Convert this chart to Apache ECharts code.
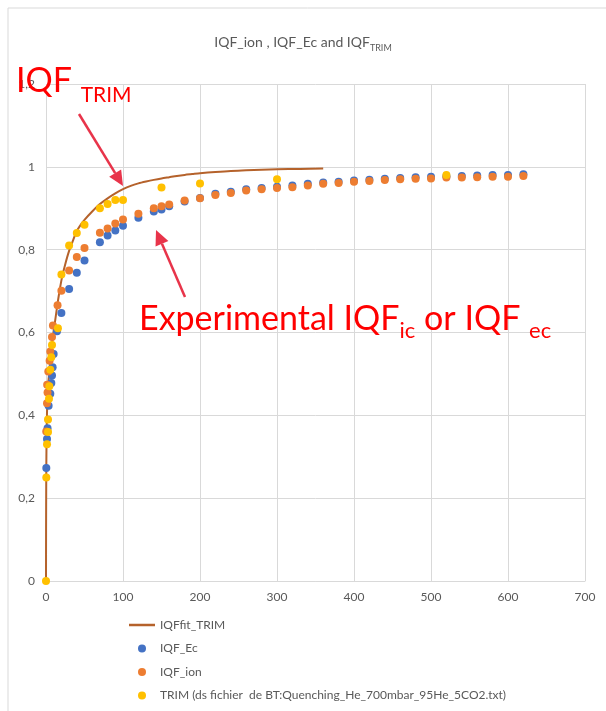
<!DOCTYPE html>
<html>
<head>
<meta charset="utf-8">
<script src="https://cdn.jsdelivr.net/npm/echarts@6/dist/echarts.min.js"></script>
<style>
html,body{margin:0;padding:0;background:#fff;}
#chart{width:606px;height:711px;}
</style>
</head>
<body>
<div id="chart"></div>
<script>
// ---- data ----
const xTicks = [0, 100, 200, 300, 400, 500, 600, 700];
const yTicks = [0, 0.2, 0.4, 0.6, 0.8, 1, 1.2];

const fitX = [0, 0.1, 0.3, 0.6, 1, 1.5, 2, 3, 4, 5, 6, 8, 10, 12, 15, 18, 21, 25, 30, 35, 40, 45, 50, 60, 70, 80, 90, 100, 110, 120, 130, 140, 150, 160, 170, 180, 190, 200, 220, 240, 260, 280, 300, 330, 360];
const fitY = [0, 0.12, 0.24, 0.32, 0.38, 0.42, 0.45, 0.48, 0.50, 0.52, 0.54, 0.575, 0.605, 0.63, 0.67, 0.705, 0.735, 0.765, 0.797, 0.822, 0.845, 0.86, 0.872, 0.892, 0.91, 0.924, 0.936, 0.946, 0.954, 0.96, 0.9645, 0.9685, 0.972, 0.975, 0.978, 0.9805, 0.9825, 0.9845, 0.9875, 0.99, 0.9915, 0.993, 0.994, 0.995, 0.996];

const ecX = [0.4, 1.3, 2, 3.4, 5.6, 6.9, 7.8, 8.6, 9.9, 14.3, 20, 30, 40, 50, 70, 80, 90, 100, 120, 140, 150, 160, 180, 200, 220, 240, 260, 280, 300, 320, 340, 360, 380, 400, 420, 440, 460, 480, 500, 520, 540, 560, 580, 600, 620];
const ecY = [0.273, 0.343, 0.369, 0.423, 0.452, 0.478, 0.496, 0.516, 0.548, 0.603, 0.647, 0.705, 0.744, 0.774, 0.818, 0.834, 0.846, 0.858, 0.877, 0.892, 0.897, 0.905, 0.916, 0.925, 0.935, 0.940, 0.946, 0.949, 0.952, 0.955, 0.959, 0.962, 0.964, 0.967, 0.969, 0.971, 0.973, 0.975, 0.976, 0.977, 0.978, 0.979, 0.980, 0.980, 0.982];

const ionX = [0.3, 1.3, 1.5, 2, 3, 4.7, 5.6, 7.8, 9, 15, 20, 30, 40, 50, 70, 80, 90, 100, 120, 140, 150, 160, 180, 200, 220, 240, 260, 280, 300, 320, 340, 360, 380, 400, 420, 440, 460, 480, 500, 520, 540, 560, 580, 600, 620];
const ionY = [0.361, 0.429, 0.474, 0.455, 0.506, 0.532, 0.554, 0.589, 0.617, 0.666, 0.701, 0.750, 0.782, 0.804, 0.841, 0.851, 0.863, 0.873, 0.887, 0.900, 0.905, 0.909, 0.919, 0.924, 0.932, 0.937, 0.943, 0.946, 0.949, 0.951, 0.955, 0.959, 0.961, 0.964, 0.966, 0.968, 0.970, 0.971, 0.972, 0.974, 0.974, 0.975, 0.976, 0.976, 0.978];

const trimX = [0, 0.4, 1.3, 2.6, 2.6, 3.9, 4.3, 5.6, 6.9, 7.8, 15.5, 20, 30, 40, 50, 70, 80, 90, 100, 150, 200, 300, 520];
const trimY = [0, 0.25, 0.33, 0.36, 0.39, 0.44, 0.47, 0.51, 0.54, 0.57, 0.61, 0.74, 0.81, 0.84, 0.86, 0.90, 0.91, 0.92, 0.92, 0.95, 0.96, 0.97, 0.98];

const seriesNames = ['IQFfit_TRIM', 'IQF_Ec', 'IQF_ion', 'TRIM (ds fichier  de BT:Quenching_He_700mbar_95He_5CO2.txt)'];

const zip = (xs, ys) => xs.map((x, i) => [x, ys[i]]);

const FONT = 'Lato';
const GRAY = '#595959';
const GRID = '#D9D9D9';
const RED = '#FF0000';
const ARROW = '#E8344A';
const BROWN = '#B5622B';

const chart = echarts.init(document.getElementById('chart'), null, {renderer: 'canvas'});

function arrow(x1, y1, x2, y2) {
  const ang = Math.atan2(y2 - y1, x2 - x1);
  const L = 15, W = 7;
  const bx = x2 - L * Math.cos(ang), by = y2 - L * Math.sin(ang);
  const px = -Math.sin(ang) * W, py = Math.cos(ang) * W;
  return [
    {type: 'line', z: 100, shape: {x1: x1, y1: y1, x2: bx, y2: by}, style: {stroke: ARROW, lineWidth: 2.5}},
    {type: 'polygon', z: 100, shape: {points: [[x2, y2], [bx + px, by + py], [bx - px, by - py]]}, style: {fill: ARROW}}
  ];
}

const option = {
  animation: false,
  backgroundColor: '#fff',
  textStyle: {fontFamily: FONT},
  title: {
    text: '{a|IQF_ion , IQF_Ec and IQF}{b|TRIM}',
    left: 'center',
    top: 26,
    textStyle: {
      fontWeight: 'normal',
      rich: {
        a: {fontFamily: FONT, fontSize: 14, fontWeight: 'normal', color: GRAY, lineHeight: 22, verticalAlign: 'middle'},
        b: {fontFamily: FONT, fontSize: 9, fontWeight: 'normal', color: GRAY, lineHeight: 12, verticalAlign: 'bottom'}
      }
    }
  },
  grid: {left: 46, right: 21, top: 84, bottom: 130, containLabel: false},
  xAxis: {
    type: 'value', min: xTicks[0], max: xTicks[xTicks.length - 1], interval: 100,
    axisLine: {show: true, lineStyle: {color: GRID}},
    axisTick: {show: false},
    splitLine: {show: true, lineStyle: {color: GRID}},
    axisLabel: {color: GRAY, fontSize: 12, fontFamily: FONT, margin: 10}
  },
  yAxis: {
    type: 'value', min: yTicks[0], max: yTicks[yTicks.length - 1], interval: 0.2,
    axisLine: {show: false},
    axisTick: {show: false},
    splitLine: {show: true, lineStyle: {color: GRID}},
    axisLabel: {color: GRAY, fontSize: 12, fontFamily: FONT, margin: 11,
      formatter: v => String(+v.toFixed(1)).replace('.', ',')}
  },
  legend: {
    orient: 'vertical',
    left: 129, top: 619, padding: 0,
    itemWidth: 26, itemHeight: 8, itemGap: 11.5,
    textStyle: {color: GRAY, fontSize: 12, fontFamily: FONT},
    data: [
      {name: seriesNames[0], icon: 'path://M0,0H26V2.5H0Z', itemStyle: {color: BROWN}},
      {name: seriesNames[1]},
      {name: seriesNames[2]},
      {name: seriesNames[3]}
    ]
  },
  series: [
    {name: seriesNames[0], type: 'line', data: zip(fitX, fitY), symbol: 'none', showSymbol: false,
      smooth: 0.25, lineStyle: {color: BROWN, width: 2}, itemStyle: {color: BROWN}, z: 2},
    {name: seriesNames[1], type: 'scatter', data: zip(ecX, ecY), symbol: 'circle', symbolSize: 8,
      itemStyle: {color: '#4472C4', opacity: 1}, z: 3},
    {name: seriesNames[2], type: 'scatter', data: zip(ionX, ionY), symbol: 'circle', symbolSize: 8,
      itemStyle: {color: '#ED7D31', opacity: 1}, z: 4},
    {name: seriesNames[3], type: 'scatter', data: zip(trimX, trimY), symbol: 'circle', symbolSize: 8,
      itemStyle: {color: '#FFC000', opacity: 1}, z: 5}
  ],
  graphic: [
    {type: 'rect', z: -10, silent: true, shape: {x: 8, y: 8, width: 610, height: 720},
      style: {fill: null, stroke: GRID, lineWidth: 1}},
    {type: 'text', z: 100, left: 16, top: 64,
      style: {
        text: '{a|IQF }{b|TRIM}',
        rich: {
          a: {fontFamily: FONT, fontSize: 34, fill: RED, lineHeight: 50, verticalAlign: 'middle'},
          b: {fontFamily: FONT, fontSize: 21, fill: RED, lineHeight: 22, verticalAlign: 'bottom'}
        }
      }},
    {type: 'text', z: 100, left: 139, top: 302,
      style: {
        text: '{a|Experimental IQF}{b|ic}{a| or IQF }{b|ec}',
        rich: {
          a: {fontFamily: FONT, fontSize: 34, fill: RED, lineHeight: 46, verticalAlign: 'middle'},
          b: {fontFamily: FONT, fontSize: 22, fill: RED, lineHeight: 22, verticalAlign: 'bottom'}
        }
      }},
    ...arrow(79, 114, 123, 186),
    ...arrow(185, 297, 156, 230)
  ]
};
chart.setOption(option);
</script>
</body>
</html>
